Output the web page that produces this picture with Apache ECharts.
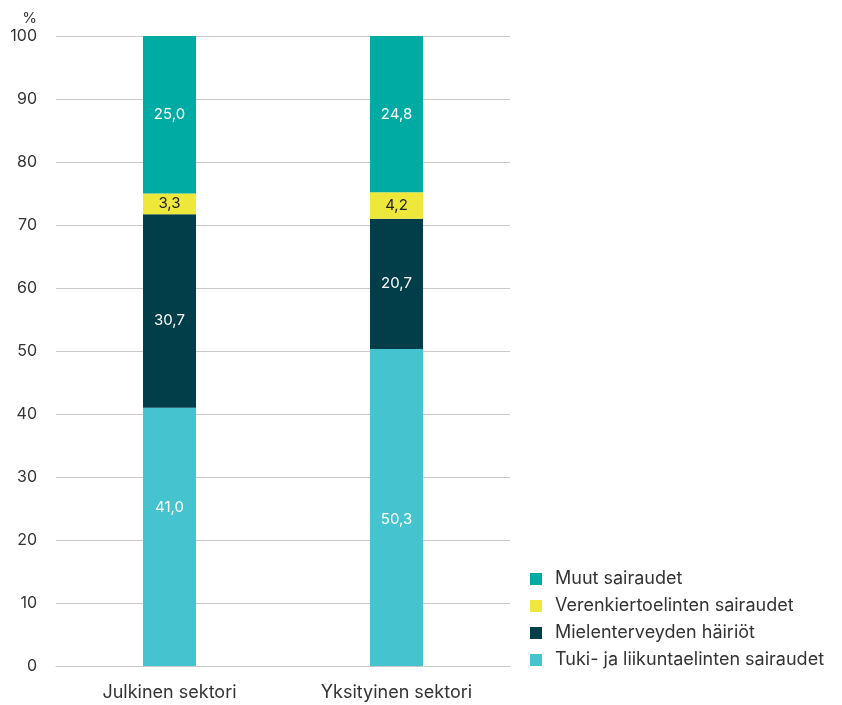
<!DOCTYPE html>
<html>
<head>
<meta charset="utf-8">
<script src="https://cdn.jsdelivr.net/npm/echarts@6/dist/echarts.min.js"></script>
<style>
  html, body { margin: 0; padding: 0; background: #fff; }
  #chart { width: 842px; height: 705px; }
</style>
</head>
<body>
<div id="chart"></div>
<script>
// Sectors on the x axis
const categories = ['Julkinen sektori', 'Yksityinen sektori'];

// Shares (%) per cause, stacked from bottom to top
const tukiValues = [41.0, 50.3];
const mieliValues = [30.7, 20.7];
const verenValues = [3.3, 4.2];
const muutValues = [25.0, 24.8];

const seriesNames = [
  'Tuki- ja liikuntaelinten sairaudet',
  'Mielenterveyden häiriöt',
  'Verenkiertoelinten sairaudet',
  'Muut sairaudet'
];
const legendOrder = [
  'Muut sairaudet',
  'Verenkiertoelinten sairaudet',
  'Mielenterveyden häiriöt',
  'Tuki- ja liikuntaelinten sairaudet'
];
const yTicks = { min: 0, max: 100, interval: 10 };

const colors = ['#45C3CE', '#023D4A', '#EEE83A', '#00ABA4'];
const labelColors = ['#ffffff', '#ffffff', '#222222', '#ffffff'];
const valueSets = [tukiValues, mieliValues, verenValues, muutValues];
// Vertical nudges for a few value labels inside the segments
const labelShifts = [[-29, 12], [9, 0], [0, 0], [0, 0]];

const FONT = 'Inter, "Noto Sans", sans-serif';

const fmt = v => v.toFixed(1).replace('.', ',');

const chart = echarts.init(document.getElementById('chart'));
chart.setOption({
  animation: false,
  textStyle: { fontFamily: FONT },
  grid: { left: 56, right: 332, top: 36, bottom: 39, containLabel: false },
  legend: {
    orient: 'vertical',
    left: 530,
    top: 570,
    padding: 0,
    itemWidth: 12,
    itemHeight: 12,
    itemGap: 9,
    icon: 'rect',
    data: legendOrder,
    textStyle: { fontSize: 18, color: '#333', fontFamily: FONT, padding: [0, 0, 0, 8] }
  },
  xAxis: {
    type: 'category',
    data: categories,
    axisTick: { show: false },
    axisLine: { lineStyle: { color: '#c8c8c8' } },
    axisLabel: { fontSize: 18, color: '#333', margin: 18, fontFamily: FONT }
  },
  yAxis: {
    type: 'value',
    min: yTicks.min,
    max: yTicks.max,
    interval: yTicks.interval,
    name: '%',
    nameLocation: 'end',
    nameGap: 10,
    nameTextStyle: { fontSize: 15, color: '#333', align: 'right', padding: [0, 19, 0, 0], fontFamily: FONT },
    axisLine: { show: false },
    axisTick: { show: false },
    splitLine: { lineStyle: { color: '#c8c8c8', width: 1 } },
    axisLabel: { fontSize: 16, color: '#333', margin: 19, fontFamily: FONT }
  },
  series: seriesNames.map((name, i) => ({
    name,
    type: 'bar',
    stack: 'total',
    barWidth: 53,
    data: valueSets[i].map((v, j) => ({
      value: v,
      label: { offset: [0, labelShifts[i][j]] }
    })),
    itemStyle: { color: colors[i] },
    label: {
      show: true,
      position: 'inside',
      color: labelColors[i],
      fontSize: 15,
      fontFamily: FONT,
      formatter: p => fmt(p.value)
    }
  }))
});
</script>
</body>
</html>
